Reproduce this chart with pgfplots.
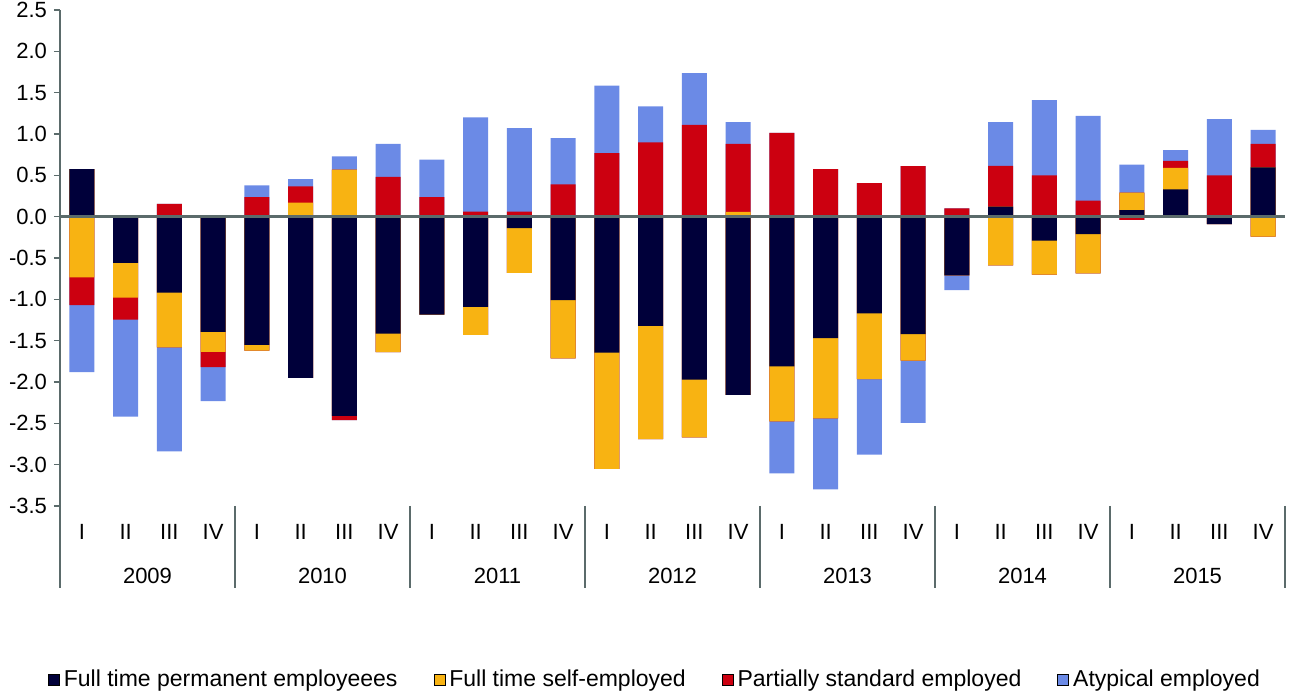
\documentclass[border=0pt]{standalone}
\usepackage{pgfplots}
\pgfplotsset{compat=1.18}
\usepackage{pgfplotstable}
\usepackage{fontspec}
\setmainfont{Liberation Sans}
\definecolor{navy}{HTML}{00003A}
\definecolor{gold}{HTML}{F8B312}
\definecolor{crim}{HTML}{CC0010}
\definecolor{lblue}{HTML}{6B8AE6}
\definecolor{axisgray}{HTML}{5B6B6B}
% cumulative boundaries: positive stack (p1..p4) and negative stack (n1..n4)
% order: permanent, self-employed, partially standard, atypical
\pgfplotstableread{
x p1 p2 p3 p4 n1 n2 n3 n4
0 0.575 0.575 0.575 0.575 0 -0.735 -1.07 -1.88
1 0 0 0 0 -0.56 -0.98 -1.245 -2.42
2 0 0 0.155 0.155 -0.92 -1.58 -1.58 -2.84
3 0 0 0 0 -1.395 -1.635 -1.82 -2.23
4 0 0 0.235 0.38 -1.55 -1.62 -1.62 -1.62
5 0 0.17 0.365 0.455 -1.95 -1.95 -1.95 -1.95
6 0 0.57 0.57 0.73 -2.41 -2.41 -2.46 -2.46
7 0 0 0.48 0.88 -1.415 -1.64 -1.64 -1.64
8 0 0 0.235 0.69 -1.185 -1.185 -1.185 -1.185
9 0 0 0.06 1.2 -1.09 -1.43 -1.43 -1.43
10 0 0 0.06 1.07 -0.14 -0.68 -0.68 -0.68
11 0 0 0.39 0.95 -1.01 -1.715 -1.715 -1.715
12 0 0 0.77 1.585 -1.645 -3.05 -3.05 -3.05
13 0 0 0.9 1.335 -1.32 -2.69 -2.69 -2.69
14 0 0 1.11 1.735 -1.97 -2.67 -2.67 -2.67
15 0 0.057 0.88 1.145 -2.155 -2.155 -2.155 -2.155
16 0 0 1.015 1.015 -1.81 -2.475 -2.475 -3.105
17 0 0 0.575 0.575 -1.47 -2.44 -2.44 -3.30
18 0 0 0.405 0.405 -1.17 -1.965 -1.965 -2.88
19 0 0 0.61 0.61 -1.42 -1.74 -1.74 -2.495
20 0 0 0.1 0.1 -0.71 -0.71 -0.71 -0.89
21 0.12 0.12 0.615 1.145 0 -0.59 -0.59 -0.59
22 0 0 0.5 1.41 -0.29 -0.70 -0.70 -0.70
23 0 0 0.195 1.22 -0.21 -0.685 -0.685 -0.685
24 0.08 0.29 0.29 0.63 0 0 -0.04 -0.04
25 0.33 0.59 0.675 0.805 0 0 0 0
26 0 0 0.5 1.18 -0.09 -0.09 -0.09 -0.09
27 0.595 0.595 0.88 1.05 0 -0.24 -0.24 -0.24
}\datatable
\pgfplotsset{mybar/.style={ybar, bar width=12.5pt, bar shift=0pt, draw=none, forget plot}}
\begin{document}
\begin{tikzpicture}
\useasboundingbox (-30pt,-94.5pt) rectangle (615pt,253pt);
\begin{axis}[
  scale only axis, width=612.5pt, height=248pt,
  xmin=-0.5, xmax=27.5, ymin=-3.5, ymax=2.5,
  clip=false,
  axis x line=bottom, axis y line=left,
  x axis line style={draw=none},
  y axis line style={draw=axisgray, line width=1pt, -},
  ytick={-3.5,-3,-2.5,-2,-1.5,-1,-0.5,0,0.5,1,1.5,2,2.5},
  tick align=outside, major tick length=3pt,
  ytick style={draw=axisgray, line width=0.8pt},
  xtick={0,...,27},
  xticklabels={I,II,III,IV,I,II,III,IV,I,II,III,IV,I,II,III,IV,I,II,III,IV,I,II,III,IV,I,II,III,IV},
  xtick style={draw=none},
  tick label style={font=\fontsize{11}{13}\selectfont},
  yticklabel style={/pgf/number format/.cd, fixed, fixed zerofill, precision=1, assume math mode=true},
  xticklabel style={yshift=-2.5pt},
  legend style={draw=none, at={(0.4865,-0.351)}, anchor=center, legend columns=4,
    font=\fontsize{11.5}{13}\selectfont,
    /tikz/every even column/.append style={column sep=16pt}},
  legend image code/.code={\fill[#1] (0.8pt,-2.75pt) rectangle (6.3pt,2.75pt);},
]
\addplot[mybar, fill=lblue] table[x=x, y=p4] {\datatable};
\addplot[mybar, fill=crim] table[x=x, y=p3] {\datatable};
\addplot[mybar, fill=gold] table[x=x, y=p2] {\datatable};
\addplot[mybar, fill=navy] table[x=x, y=p1] {\datatable};
\addplot[mybar, fill=lblue] table[x=x, y=n4] {\datatable};
\addplot[mybar, fill=crim] table[x=x, y=n3] {\datatable};
\addplot[mybar, fill=gold] table[x=x, y=n2] {\datatable};
\addplot[mybar, fill=navy] table[x=x, y=n1] {\datatable};
\draw[axisgray, line width=1.3pt] (axis cs:-0.5,0) -- (axis cs:27.5,0);
\draw[axisgray, line width=1pt] (axis cs:-0.5,-3.5) -- ([yshift=-41pt]axis cs:-0.5,-3.5);
\draw[axisgray, line width=1pt] (axis cs:3.5,-3.5) -- ([yshift=-41pt]axis cs:3.5,-3.5);
\draw[axisgray, line width=1pt] (axis cs:7.5,-3.5) -- ([yshift=-41pt]axis cs:7.5,-3.5);
\draw[axisgray, line width=1pt] (axis cs:11.5,-3.5) -- ([yshift=-41pt]axis cs:11.5,-3.5);
\draw[axisgray, line width=1pt] (axis cs:15.5,-3.5) -- ([yshift=-41pt]axis cs:15.5,-3.5);
\draw[axisgray, line width=1pt] (axis cs:19.5,-3.5) -- ([yshift=-41pt]axis cs:19.5,-3.5);
\draw[axisgray, line width=1pt] (axis cs:23.5,-3.5) -- ([yshift=-41pt]axis cs:23.5,-3.5);
\draw[axisgray, line width=1pt] (axis cs:27.5,-3.5) -- ([yshift=-41pt]axis cs:27.5,-3.5);
\node[font=\fontsize{11}{13}\selectfont] at ([yshift=-35pt]axis cs:1.5,-3.5) {2009};
\node[font=\fontsize{11}{13}\selectfont] at ([yshift=-35pt]axis cs:5.5,-3.5) {2010};
\node[font=\fontsize{11}{13}\selectfont] at ([yshift=-35pt]axis cs:9.5,-3.5) {2011};
\node[font=\fontsize{11}{13}\selectfont] at ([yshift=-35pt]axis cs:13.5,-3.5) {2012};
\node[font=\fontsize{11}{13}\selectfont] at ([yshift=-35pt]axis cs:17.5,-3.5) {2013};
\node[font=\fontsize{11}{13}\selectfont] at ([yshift=-35pt]axis cs:21.5,-3.5) {2014};
\node[font=\fontsize{11}{13}\selectfont] at ([yshift=-35pt]axis cs:25.5,-3.5) {2015};
\addlegendimage{fill=navy}
\addlegendentry{Full time permanent employeees}
\addlegendimage{fill=gold}
\addlegendentry{Full time self-employed}
\addlegendimage{fill=crim}
\addlegendentry{Partially standard employed}
\addlegendimage{fill=lblue}
\addlegendentry{Atypical employed}
\end{axis}
\end{tikzpicture}
\end{document}
